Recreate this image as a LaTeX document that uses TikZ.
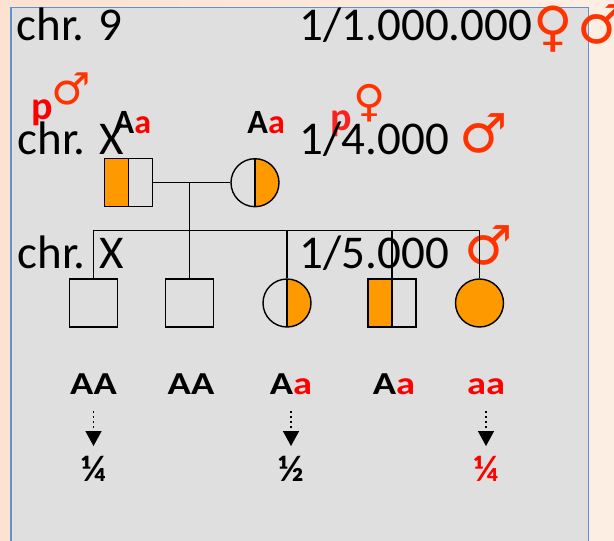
\documentclass[tikz,border=0pt]{standalone}
\usepackage{fontspec}
\usepackage{graphicx}
\usetikzlibrary{arrows.meta}
\setmainfont{Carlito}
\newfontfamily\symfont{DejaVu Sans}
\definecolor{affect}{RGB}{255,153,0}
\definecolor{sexred}{RGB}{255,51,0}
\definecolor{boxgray}{RGB}{223,223,223}
\definecolor{boxblue}{RGB}{96,146,206}
\definecolor{peach}{RGB}{252,226,208}
\definecolor{peachlight}{RGB}{253,238,228}
\newcommand{\reca}{\textcolor{red}{a}}

\begin{document}
\begin{tikzpicture}[x=1pt, y=-1pt, line width=1.4pt,
	male/.style = {shape=rectangle, draw, minimum size=48pt, inner sep=0pt},
	female/.style = {shape=circle, draw, minimum size=48pt, inner sep=0pt},
	leftcarrier/.style = {path picture={\fill[affect] (path picture bounding box.south west) rectangle (path picture bounding box.north); \draw (path picture bounding box.south) -- (path picture bounding box.north);}},
	rightcarrier/.style = {path picture={\fill[affect] (path picture bounding box.south east) rectangle (path picture bounding box.north); \draw (path picture bounding box.south) -- (path picture bounding box.north);}},
	chr/.style = {font=\fontsize{47}{56}\selectfont, inner sep=0pt, anchor=base west},
	geno/.style = {font=\bfseries\fontsize{34}{40}\selectfont, inner sep=0pt, anchor=base west},
	kid/.style = {font=\bfseries\fontsize{32}{38}\selectfont, inner sep=0pt, anchor=base},
	chance/.style = {font=\bfseries\fontsize{37}{42}\selectfont, inner sep=0pt, anchor=base},
	sex/.style = {text=sexred, font=\symfont\bfseries\fontsize{54}{60}\selectfont, inner sep=0pt},
	small sex/.style = {sex, font=\symfont\bfseries\fontsize{44}{50}\selectfont},
	parent/.style = {text=red, font=\bfseries\fontsize{40}{46}\selectfont, inner sep=0pt, anchor=base west},
	tick/.style = {dash pattern=on 1.5pt off 3.5pt, shorten <=16pt, shorten >=9pt, -{Triangle[width=16pt,length=15pt]}}]
	\useasboundingbox (0,0) rectangle (614,541);
	\clip (0,0) rectangle (614,541);
	\shade[left color=peach, right color=peachlight] (0,0) rectangle (614,541);
	\draw[boxblue, fill=boxgray, line width=1.5pt] (11,7.3) rectangle (588.5,560);

	% frequencies per chromosome
	\node[chr] (chr9) at (16,40) {chr. 9};
	\node[chr] (f9) at (299,40) {1/1.000.000};
	\node[sex] (s9f) at (553,29) {♀};
	\node[sex] (s9m) at (602,24) {♂};
	\node[parent] (p1) at (31,119) {p};
	\node[small sex] (p1m) at (71,89) {♂};
	\node[parent, opacity=0.85] (p2) at (330,130) {p};
	\node[small sex] (p2f) at (370,103) {♀};
	\node[chr] (chrX) at (17,154) {chr. X};
	\node[chr] (fX) at (299,154) {1/4.000};
	\node[sex] (sXm) at (484,133) {♂};
	\node[chr] (chrXb) at (17,268.3) {chr. X};
	\node[chr] (fXb) at (299,268.3) {1/5.000};
	\node[sex] (sXbm) at (489,245) {♂};

	% parents
	\node[male, leftcarrier] (fa) at (128.3,182.7) {};
	\node[female, rightcarrier] (mo) at (255,182.7) {};
	\node[geno] (gfa) at (113,133.3) {A\reca};
	\node[geno] (gmo) at (246.7,133.3) {A\reca};

	% children
	\node[male] (c1) at (93.4,303) {};
	\node[male] (c2) at (189.6,303) {};
	\node[female, rightcarrier] (c3) at (287,303) {};
	\node[male, leftcarrier] (c4) at (392,303) {};
	\node[female, fill=affect] (c5) at (479.5,303) {};

	\coordinate (mate) at (189.6,182.7);
	\coordinate (sib) at (189.6,230.7);
	\draw (fa) -- (mo);
	\draw (mate) -- (sib);
	\draw (c1.north) |- (sib) -| (c5.north);
	\foreach \k in {2,3,4}
		\draw (c\k.north) -- (c\k.north |- sib);

	% genotypes and their chances
	\node[kid] (g1) at (93.5,394.3) {\scalebox{1.2}[1]{AA}};
	\node[kid] (g2) at (191,394.3) {\scalebox{1.2}[1]{AA}};
	\node[kid] (g3) at (291,394.3) {\scalebox{1.2}[1]{A\reca}};
	\node[kid] (g4) at (394,394.3) {\scalebox{1.2}[1]{A\reca}};
	\node[kid] (g5) at (486,394.3) {\scalebox{1.2}[1]{\reca\reca}};
	\node[chance] (q1) at (93.5,481) {¼};
	\node[chance] (q3) at (291,481) {½};
	\node[chance, text=red] (q5) at (486,481) {¼};
	\foreach \k in {1,3,5}
		\draw[tick] (g\k) -- (q\k);
\end{tikzpicture}
\end{document}
